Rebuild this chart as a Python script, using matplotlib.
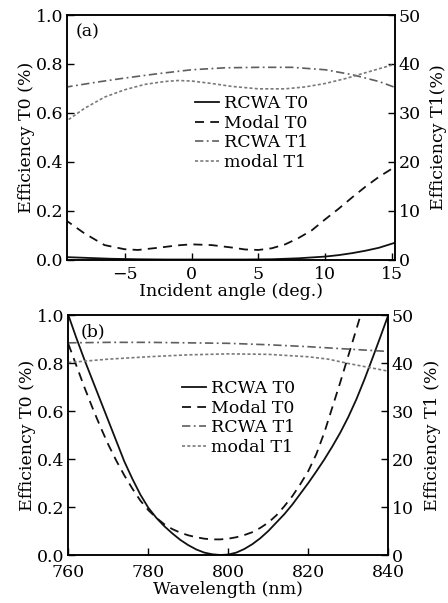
import matplotlib
matplotlib.use("Agg")
import matplotlib.pyplot as plt

plt.rcParams['font.family'] = ['DejaVu Serif']
plt.rcParams['lines.scale_dashes'] = False
plt.rcParams['axes.linewidth'] = 1.1

# ---------------- Panel (a): incident angle ----------------
ang_rcwa_t0 = [-9.5, -8, -6, -4, -2, 0, 2, 4, 6, 8, 10, 11, 12, 13, 14, 15.4]
rcwa_t0_a = [0.010, 0.007, 0.003, 0.001, 0.0, 0.0, 0.0, 0.0, 0.001, 0.005, 0.012, 0.018, 0.026, 0.036, 0.048, 0.072]

ang_modal_t0 = [-9.5, -8, -6.5, -5, -4, -2.5, -1, 0, 1.5, 3, 4, 5, 6, 7, 8, 9, 10, 11, 12, 13, 14, 15.4]
modal_t0_a = [0.165, 0.107, 0.059, 0.042, 0.039, 0.048, 0.058, 0.062, 0.059, 0.049, 0.041, 0.039,
              0.046, 0.062, 0.088, 0.12, 0.165, 0.208, 0.254, 0.298, 0.338, 0.386]

ang_rcwa_t1 = [-9.5, -7, -5, -2.5, 0, 2.5, 5, 7.5, 10, 12, 14, 15.4]
rcwa_t1_a = [35.2, 36.3, 37.1, 38.0, 38.8, 39.2, 39.3, 39.3, 38.8, 37.8, 36.4, 35.0]

ang_modal_t1 = [-9.5, -8, -6.5, -5, -3.5, -2, -1, 0, 1.5, 3, 5, 7, 8.5, 10, 11.5, 13, 14, 15.4]
modal_t1_a = [28.0, 30.9, 33.2, 34.7, 35.8, 36.4, 36.6, 36.5, 36.0, 35.4, 34.9, 34.9, 35.3, 36.0,
              37.0, 38.2, 39.0, 40.1]

angle_ticks = [-5, 0, 5, 10, 15]

# ---------------- Panel (b): wavelength ----------------
wl_t0 = [760, 762, 764, 766, 768, 770, 772, 774, 776, 778, 780, 782, 784, 786, 788, 790, 792, 794,
         796, 798, 800, 802, 804, 806, 808, 810, 812, 814, 816, 818, 820, 822, 824, 826, 828, 830,
         832, 834, 836, 838, 840]
rcwa_t0_b = [1.00, 0.905, 0.815, 0.73, 0.645, 0.56, 0.475, 0.39, 0.318, 0.252, 0.197, 0.155, 0.12,
             0.09, 0.063, 0.041, 0.023, 0.01, 0.003, 0.0, 0.002, 0.01, 0.025, 0.045, 0.07, 0.10,
             0.135, 0.17, 0.21, 0.255, 0.30, 0.348, 0.398, 0.452, 0.51, 0.575, 0.648, 0.73, 0.818,
             0.908, 1.0]

wl_modal = [760, 762, 764, 766, 768, 770, 772, 774, 776, 778, 780, 782, 784, 786, 788, 790, 792,
            794, 796, 798, 800, 802, 804, 806, 808, 810, 812, 814, 816, 818, 820, 822, 824, 826,
            828, 830, 832, 834]
modal_t0_b = [0.88, 0.79, 0.70, 0.615, 0.535, 0.46, 0.393, 0.332, 0.277, 0.227, 0.187, 0.155, 0.128,
              0.108, 0.093, 0.082, 0.074, 0.068, 0.065, 0.065, 0.068, 0.074, 0.083, 0.095, 0.113,
              0.135, 0.165, 0.203, 0.245, 0.295, 0.35, 0.42, 0.51, 0.615, 0.72, 0.83, 0.94, 1.05]

wl_t1 = [760, 770, 780, 790, 800, 810, 820, 830, 840]
rcwa_t1_b = [44.2, 44.3, 44.3, 44.2, 44.1, 43.8, 43.4, 42.9, 42.4]

wl_t1m = [760, 770, 780, 790, 800, 810, 820, 825, 830, 835, 840]
modal_t1_b = [40.1, 40.8, 41.3, 41.7, 41.9, 41.8, 41.3, 40.8, 39.9, 39.1, 38.3]

wl_ticks = [760, 780, 800, 820, 840]

labels = ['RCWA T0', 'Modal T0', 'RCWA T1', 'modal T1']

FS = 12.5
W, H = 448, 603
fig = plt.figure(figsize=(W / 100, H / 100), dpi=100)

st_solid = dict(color='#111111', lw=1.3, linestyle='-')
st_dash = dict(color='#111111', lw=1.3, dashes=(6.5, 4.5))
st_dashdot = dict(color='#5e5e5e', lw=1.2, dashes=(6, 2.5, 1.3, 2.5))
st_dot = dict(color='#7a7a7a', lw=1.2, dashes=(2.2, 1.6))

leg_kw = dict(frameon=False, fontsize=FS, handlelength=1.4, handletextpad=0.25,
              labelspacing=0.15, borderpad=0.0, borderaxespad=0.0)


def rect(l, r, t, b):
    return [l / W, 1 - b / H, (r - l) / W, (b - t) / H]


# Panel (a)
ax1 = fig.add_axes(rect(67, 395, 15, 259.5))
ax1b = ax1.twinx()
l1, = ax1.plot(ang_rcwa_t0, rcwa_t0_a, **st_solid)
l2, = ax1.plot(ang_modal_t0, modal_t0_a, **st_dash)
l3, = ax1b.plot(ang_rcwa_t1, rcwa_t1_a, **st_dashdot)
l4, = ax1b.plot(ang_modal_t1, modal_t1_a, **st_dot)
ax1.set_xlim(-9.3, 15.2)
ax1.set_ylim(0, 1.0)
ax1b.set_ylim(0, 50)
ax1.set_xticks(angle_ticks)
ax1.set_xticklabels(['\u22125', '0', '5', '10', '15'])
ax1.set_yticks([0, 0.2, 0.4, 0.6, 0.8, 1.0])
ax1.set_yticklabels(['0.0', '0.2', '0.4', '0.6', '0.8', '1.0'])
ax1b.set_yticks([0, 10, 20, 30, 40, 50])
for a in (ax1, ax1b):
    a.tick_params(direction='in', labelsize=FS, length=5, width=1.0, pad=2.5)
ax1.tick_params(axis='x', pad=5)
ax1.set_xlabel('Incident angle (deg.)', fontsize=FS, labelpad=0)
ax1.set_ylabel('Efficiency T0 (%)', fontsize=FS, labelpad=1)
ax1b.set_ylabel('Efficiency T1(%)', fontsize=FS, labelpad=7)
ax1.text(0.025, 0.965, '(a)', transform=ax1.transAxes, fontsize=FS, va='top', ha='left')
leg1 = ax1.legend([l1, l2, l3, l4], labels, loc='upper left',
                  bbox_to_anchor=((195 - 67) / 328, (259.5 - 95) / 244.5), **leg_kw)

# Panel (b)
ax2 = fig.add_axes(rect(68.3, 388.3, 315, 555))
ax2b = ax2.twinx()
m1, = ax2.plot(wl_t0, rcwa_t0_b, **st_solid)
m2, = ax2.plot(wl_modal, modal_t0_b, **st_dash)
m3, = ax2b.plot(wl_t1, rcwa_t1_b, **st_dashdot)
m4, = ax2b.plot(wl_t1m, modal_t1_b, **st_dot)
ax2.set_xlim(760, 840)
ax2.set_ylim(0, 1.0)
ax2b.set_ylim(0, 50)
ax2.set_xticks(wl_ticks)
ax2.set_yticks([0, 0.2, 0.4, 0.6, 0.8, 1.0])
ax2.set_yticklabels(['0.0', '0.2', '0.4', '0.6', '0.8', '1.0'])
ax2b.set_yticks([0, 10, 20, 30, 40, 50])
for a in (ax2, ax2b):
    a.tick_params(direction='in', labelsize=FS, length=5, width=1.0, pad=2.5)
ax2.tick_params(axis='x', pad=6.5)
ax2.set_xlabel('Wavelength (nm)', fontsize=FS, labelpad=-0.3)
ax2.set_ylabel('Efficiency T0 (%)', fontsize=FS, labelpad=1)
ax2b.set_ylabel('Efficiency T1 (%)', fontsize=FS, labelpad=7)
ax2.text(0.04, 0.965, '(b)', transform=ax2.transAxes, fontsize=FS, va='top', ha='left')
leg2 = ax2.legend([m1, m2, m3, m4], labels, loc='upper left',
                  bbox_to_anchor=((182 - 68.3) / 320, (555 - 380) / 240), **leg_kw)

fig.savefig('out.png', dpi=100)
